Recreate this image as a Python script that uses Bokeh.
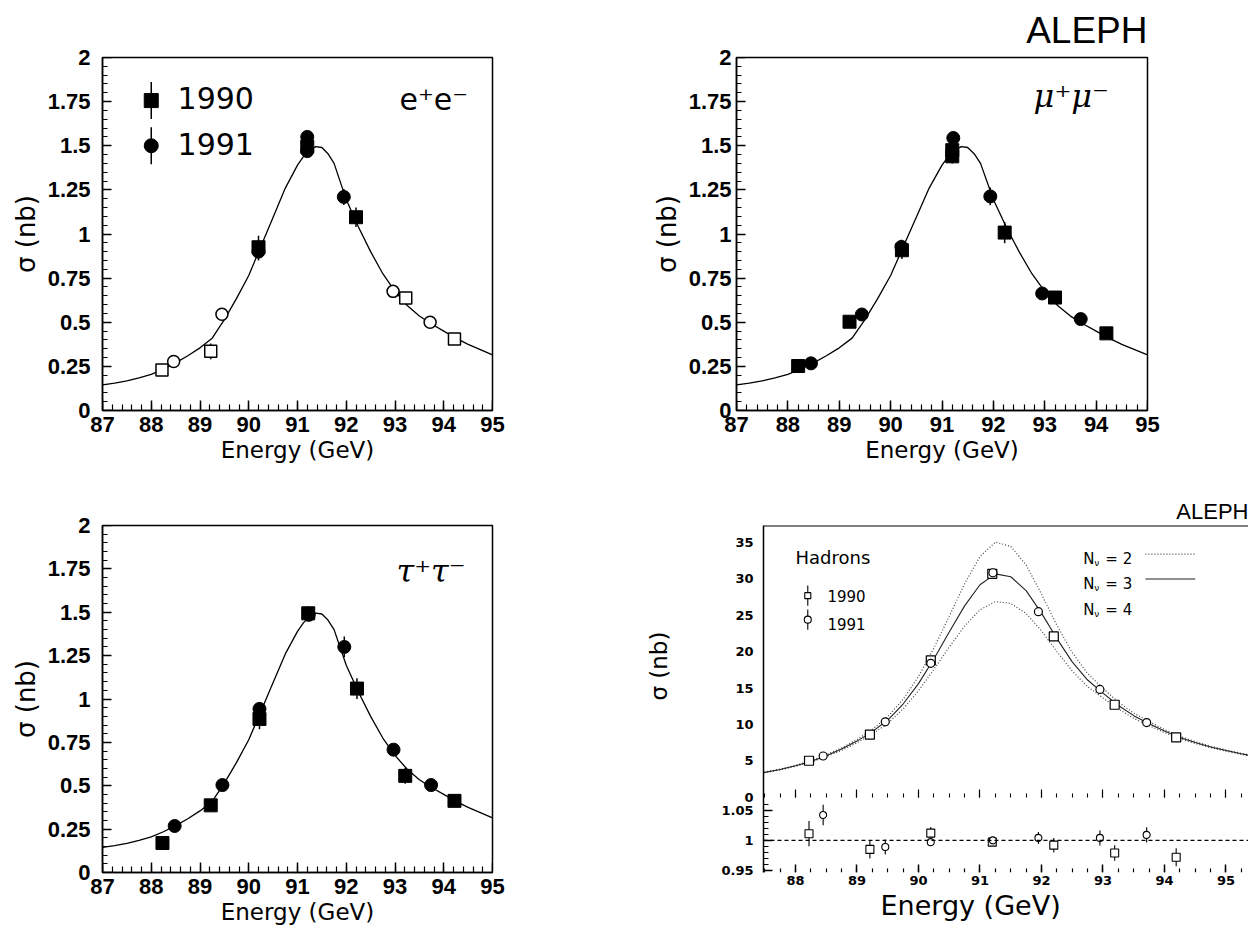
from bokeh.plotting import figure
from bokeh.models import (Range1d, SingleIntervalTicker, FixedTicker, LinearAxis,
                          NumeralTickFormatter, Label, Span, Title, AllLabels)
from bokeh.layouts import row, column
from bokeh.embed import file_html
from bokeh.resources import INLINE

# ---------------- data ----------------
fit_E = [87.0, 87.25, 87.5, 87.75, 88.0, 88.25, 88.5, 88.75, 89.0, 89.25, 89.5,
         89.75, 90.0, 90.25, 90.5, 90.75, 91.0, 91.125, 91.25, 91.375, 91.5,
         91.625, 91.75, 92.0, 92.25, 92.5, 92.75, 93.0, 93.25, 93.5, 93.75,
         94.0, 94.25, 94.5, 94.75, 95.0]
fit_sigma = [0.145, 0.155, 0.168, 0.185, 0.205, 0.235, 0.27, 0.31, 0.355, 0.41,
             0.515, 0.635, 0.765, 0.93, 1.095, 1.26, 1.39, 1.44, 1.475, 1.495,
             1.49, 1.455, 1.40, 1.195, 1.04, 0.90, 0.775, 0.675, 0.595, 0.535,
             0.49, 0.45, 0.41, 0.375, 0.345, 0.315]

ee_sq_E = [90.2, 91.2, 92.2]
ee_sq_sigma = [0.925, 1.495, 1.095]
ee_sq_err = [0.065, 0.04, 0.055]
ee_ci_E = [90.2, 91.2, 91.2, 91.95]
ee_ci_sigma = [0.90, 1.55, 1.47, 1.21]
ee_ci_err = [0.05, 0.03, 0.03, 0.045]
ee_osq_E = [88.22, 89.22, 93.22, 94.22]
ee_osq_sigma = [0.23, 0.335, 0.637, 0.405]
ee_osq_err = [0.03, 0.045, 0.03, 0.03]
ee_oci_E = [88.46, 89.45, 92.96, 93.72]
ee_oci_sigma = [0.278, 0.545, 0.675, 0.50]
ee_oci_err = [0.025, 0.03, 0.035, 0.03]

mm_90_E = [88.2, 89.2, 90.22, 91.2, 91.2, 92.22, 93.2, 94.2]
mm_90_sigma = [0.252, 0.503, 0.908, 1.475, 1.44, 1.008, 0.64, 0.437]
mm_90_err = [0.02, 0.03, 0.05, 0.04, 0.04, 0.06, 0.03, 0.025]
mm_91_E = [88.45, 89.44, 90.21, 91.22, 91.94, 92.95, 93.7]
mm_91_sigma = [0.267, 0.544, 0.927, 1.544, 1.213, 0.663, 0.518]
mm_91_err = [0.02, 0.025, 0.04, 0.03, 0.05, 0.025, 0.02]

tt_90_E = [88.23, 89.22, 90.22, 91.22, 92.22, 93.21, 94.22]
tt_90_sigma = [0.17, 0.387, 0.885, 1.494, 1.06, 0.557, 0.413]
tt_90_err = [0.025, 0.03, 0.06, 0.04, 0.06, 0.045, 0.025]
tt_91_E = [88.48, 89.46, 90.22, 91.23, 91.96, 92.97, 93.74]
tt_91_sigma = [0.268, 0.504, 0.943, 1.485, 1.30, 0.708, 0.504]
tt_91_err = [0.02, 0.025, 0.04, 0.03, 0.06, 0.03, 0.025]

had_E = [87.25, 87.5, 87.75, 88.0, 88.25, 88.5, 88.75, 89.0, 89.25, 89.5, 89.75,
         90.0, 90.25, 90.5, 90.75, 91.0, 91.25, 91.5, 91.75, 92.0, 92.25, 92.5,
         92.75, 93.0, 93.25, 93.5, 93.75, 94.0, 94.25, 94.5, 94.75, 95.0, 95.25,
         95.5]
had_N2 = [3.13, 3.44, 3.85, 4.37, 4.99, 5.82, 6.76, 7.92, 9.32, 11.05, 13.45,
          16.58, 20.5, 24.86, 29.35, 33.08, 35.06, 34.48, 31.92, 27.93, 23.65,
          19.88, 17.0, 14.94, 13.07, 11.55, 10.36, 9.3, 8.36, 7.62, 7.0, 6.48, 6.02,
          5.62]
had_N3 = [3.1, 3.4, 3.8, 4.3, 4.9, 5.7, 6.6, 7.7, 9.0, 10.6, 12.8, 15.6, 19.0,
          22.7, 26.3, 29.2, 30.7, 30.3, 28.4, 25.3, 21.8, 18.6, 16.1, 14.3, 12.6,
          11.2, 10.1, 9.1, 8.2, 7.5, 6.9, 6.4, 5.95, 5.55]
had_N4 = [3.06, 3.35, 3.74, 4.23, 4.8, 5.57, 6.42, 7.46, 8.67, 10.13, 12.12,
          14.62, 17.56, 20.63, 23.51, 25.75, 26.89, 26.63, 25.25, 22.85, 20.01,
          17.34, 15.18, 13.63, 12.11, 10.83, 9.82, 8.88, 8.03, 7.37, 6.79, 6.31, 5.87,
          5.48]
had_90_E = [88.22, 89.21, 90.2, 91.2, 92.2, 93.19, 94.19]
had_90_sigma = [5.0, 8.6, 18.8, 30.7, 22.1, 12.7, 8.2]
had_91_E = [88.45, 89.46, 90.2, 91.21, 91.95, 92.95, 93.71]
had_91_sigma = [5.65, 10.35, 18.4, 30.85, 25.5, 14.8, 10.25]
ratio_90 = [1.011, 0.985, 1.012, 0.997, 0.992, 0.979, 0.972]
ratio_90_err = [0.021, 0.015, 0.01, 0.005, 0.012, 0.013, 0.015]
ratio_91 = [1.042, 0.989, 0.997, 1.0, 1.004, 1.004, 1.009]
ratio_91_err = [0.017, 0.0125, 0.005, 0.004, 0.01, 0.0125, 0.0125]
had_ticks = [0, 5, 10, 15, 20, 25, 30, 35]
ratio_ticks = [0.95, 1.0, 1.05]
ratio_tick_labels = ["0.95", "1", "1.05"]

TICK_FONT = "Liberation Sans"
LAB_FONT = "DejaVu Sans"


def errbars(p, x, y, e, width=1.5, **kw):
    p.segment(x0=x, y0=[a - b for a, b in zip(y, e)], x1=x,
              y1=[a + b for a, b in zip(y, e)], line_color="black",
              line_width=width, **kw)


def no_ticks(ax):
    ax.major_tick_in = 0
    ax.major_tick_out = 0
    ax.minor_tick_in = 0
    ax.minor_tick_out = 0


def tick_axis(p, side, loc, positions, length, width=1.4, direction="out", **kw):
    """Unlabelled axis pinned to an interior position that only draws ticks."""
    ax = LinearAxis(fixed_location=loc,
                    ticker=FixedTicker(ticks=[], minor_ticks=positions), **kw)
    ax.axis_line_color = None
    no_ticks(ax)
    if direction == "in":
        ax.minor_tick_in = length
    else:
        ax.minor_tick_out = length
    ax.minor_tick_line_color = "black"
    ax.minor_tick_line_width = width
    ax.major_label_standoff = 0
    p.add_layout(ax, side)


def edge_ticks(p, side, loc, ticker, tin_major, tin_minor, font, size, standoff,
               formatter=None, **kw):
    """Axis pinned on the frame edge, drawing inward major and minor ticks.
    Its labels coincide with (and are clipped behind) the real axis labels."""
    ax = LinearAxis(fixed_location=loc, ticker=ticker, **kw)
    if formatter is not None:
        ax.formatter = formatter
    ax.axis_line_color = None
    ax.major_tick_in = tin_major
    ax.major_tick_out = 0
    ax.minor_tick_in = tin_minor
    ax.minor_tick_out = 0
    ax.major_tick_line_color = "black"
    ax.minor_tick_line_color = "black"
    ax.major_tick_line_width = 1.5
    ax.minor_tick_line_width = 1.2
    ax.major_label_text_font = font
    ax.major_label_text_font_style = "bold"
    ax.major_label_text_font_size = size
    ax.major_label_text_color = "black"
    ax.major_label_standoff = standoff
    p.add_layout(ax, side)


def lepton_fig(width, height, ml, mr, mt, mb, tick_standoff, ylab_standoff):
    p = figure(width=width, height=height, x_range=Range1d(87, 95),
               y_range=Range1d(0, 2), output_backend="svg", toolbar_location=None,
               min_border_left=ml, min_border_right=mr, min_border_top=mt,
               min_border_bottom=mb, background_fill_color="white",
               border_fill_color="white")
    p.outline_line_color = "black"
    p.outline_line_width = 1.5
    p.outline_line_alpha = 1.0
    p.xgrid.visible = False
    p.ygrid.visible = False
    xa = p.xaxis[0]
    ya = p.yaxis[0]
    xa.ticker = SingleIntervalTicker(interval=1)
    ya.ticker = SingleIntervalTicker(interval=0.25)
    ya.formatter = NumeralTickFormatter(format="0.[00]")
    for ax in (xa, ya):
        no_ticks(ax)
        ax.axis_line_width = 1.5
        ax.axis_line_color = "black"
        ax.major_label_text_font = TICK_FONT
        ax.major_label_text_font_style = "bold"
        ax.major_label_text_font_size = "22px"
        ax.major_label_text_color = "black"
        ax.axis_label_text_font = LAB_FONT
        ax.axis_label_text_font_style = "normal"
        ax.axis_label_text_color = "black"
    xa.major_label_standoff = 6
    xa.axis_label = "Energy (GeV)"
    xa.axis_label_text_font_size = "23px"
    xa.axis_label_standoff = 2
    ya.major_label_standoff = tick_standoff
    ya.axis_label = "σ (nb)"
    ya.axis_label_text_font_size = "26px"
    ya.axis_label_standoff = ylab_standoff
    # inner ticks on the bottom and left frame edges
    edge_ticks(p, "below", 0, SingleIntervalTicker(interval=1, num_minor_ticks=5),
               10, 6, TICK_FONT, "22px", 6)
    edge_ticks(p, "left", 87, SingleIntervalTicker(interval=0.25, num_minor_ticks=5),
               9, 5, TICK_FONT, "22px", tick_standoff,
               formatter=NumeralTickFormatter(format="0.[00]"))
    p.line(fit_E, fit_sigma, line_color="black", line_width=1.3)
    return p


def add_tag(p, x, y, text, font, style, size):
    p.add_layout(Label(x=x, y=y, text=text, text_font=font, text_font_style=style,
                       text_font_size=size, text_align="right",
                       text_baseline="alphabetic", text_color="black"))


# ---- e+e- ----
p1 = lepton_fig(640, 468, 102, 148, 57, 58, 12, 4)
errbars(p1, ee_sq_E, ee_sq_sigma, ee_sq_err)
errbars(p1, ee_ci_E, ee_ci_sigma, ee_ci_err)
errbars(p1, ee_osq_E, ee_osq_sigma, ee_osq_err)
errbars(p1, ee_oci_E, ee_oci_sigma, ee_oci_err)
p1.scatter(ee_osq_E, ee_osq_sigma, marker="square", size=12, fill_color="white",
           line_color="black", line_width=1.5)
p1.scatter(ee_oci_E, ee_oci_sigma, marker="circle", size=12, fill_color="white",
           line_color="black", line_width=1.5)
p1.scatter(ee_sq_E, ee_sq_sigma, marker="square", size=13, fill_color="black",
           line_color="black")
p1.scatter(ee_ci_E, ee_ci_sigma, marker="circle", size=13, fill_color="black",
           line_color="black")
leg_x = [88.0, 88.0]
leg_y = [1.756, 1.50]
p1.segment(x0=leg_x, y0=[v - 0.105 for v in leg_y], x1=leg_x,
           y1=[v + 0.105 for v in leg_y], line_color="black", line_width=1.5)
p1.scatter([leg_x[0]], [leg_y[0]], marker="square", size=14, fill_color="black",
           line_color="black")
p1.scatter([leg_x[1]], [leg_y[1]], marker="circle", size=14, fill_color="black",
           line_color="black")
for yy, t in zip(leg_y, ["1990", "1991"]):
    p1.add_layout(Label(x=88.54, y=yy + 0.012, text=t, text_font=LAB_FONT,
                        text_font_size="30px", text_baseline="middle",
                        text_color="black"))
add_tag(p1, 94.5, 1.76, "e⁺e⁻", LAB_FONT, "normal", "30px")

# ---- mu+mu- ----
p2 = lepton_fig(608, 468, 96, 101, 57, 58, 5, 4)
errbars(p2, mm_90_E, mm_90_sigma, mm_90_err)
errbars(p2, mm_91_E, mm_91_sigma, mm_91_err)
p2.scatter(mm_90_E, mm_90_sigma, marker="square", size=13, fill_color="black",
           line_color="black")
p2.scatter(mm_91_E, mm_91_sigma, marker="circle", size=13, fill_color="black",
           line_color="black")
add_tag(p2, 94.25, 1.78, "μ⁺μ⁻", "DejaVu Serif", "italic", "32px")
p2.above.insert(0, Title(text="ALEPH", align="right", text_font="Liberation Sans",
                         text_font_style="normal", text_font_size="37px",
                         text_color="black", standoff=14))

# ---- tau+tau- ----
p3 = lepton_fig(640, 470, 102, 148, 51, 66, 12, 4)
errbars(p3, tt_90_E, tt_90_sigma, tt_90_err)
errbars(p3, tt_91_E, tt_91_sigma, tt_91_err)
p3.scatter(tt_90_E, tt_90_sigma, marker="square", size=13, fill_color="black",
           line_color="black")
p3.scatter(tt_91_E, tt_91_sigma, marker="circle", size=13, fill_color="black",
           line_color="black")
add_tag(p3, 94.45, 1.735, "τ⁺τ⁻", "DejaVu Serif", "italic", "32px")

# ---- hadrons (one figure, two y ranges) ----
Y0, Y1 = -10.37, 37.35
R0, R1 = 0.9467, 1.5217
p4 = figure(width=608, height=470, x_range=Range1d(87.48, 95.366),
            y_range=Range1d(Y0, Y1), output_backend="svg",
            toolbar_location=None, min_border_left=123, min_border_right=0,
            min_border_top=57, min_border_bottom=55, background_fill_color="white",
            border_fill_color="white")
p4.extra_y_ranges = {"ratio": Range1d(R0, R1)}
p4.outline_line_color = None
p4.xgrid.visible = False
p4.ygrid.visible = False

xa = p4.xaxis[0]
xa.ticker = SingleIntervalTicker(interval=1)
xa.axis_line_color = None
no_ticks(xa)
xa.major_label_text_font = LAB_FONT
xa.major_label_text_font_style = "bold"
xa.major_label_text_font_size = "13px"
xa.major_label_text_color = "black"
xa.major_label_standoff = 3

# one left axis carries the cross-section labels and the ratio-scale labels
ratio_pos = [round(Y0 + (r - R0) * (Y1 - Y0) / (R1 - R0), 6) for r in ratio_ticks]
ya = p4.yaxis[0]
ya.ticker = FixedTicker(ticks=had_ticks + ratio_pos)
ya.major_label_overrides = dict(zip(ratio_pos, ratio_tick_labels))
ya.major_label_policy = AllLabels()
ya.axis_line_color = "black"
ya.axis_line_width = 1.5
no_ticks(ya)
ya.major_label_text_font = LAB_FONT
ya.major_label_text_font_style = "bold"
ya.major_label_text_font_size = "13px"
ya.major_label_text_color = "black"
ya.major_label_standoff = 10
ya.axis_label = "\u00a0" * 9 + "σ (nb)"
ya.axis_label_text_font = LAB_FONT
ya.axis_label_text_font_style = "normal"
ya.axis_label_text_font_size = "23px"
ya.axis_label_text_color = "black"
ya.axis_label_standoff = 46

p4.add_layout(Title(text="ALEPH", align="right", text_font="Liberation Sans",
                    text_font_style="normal", text_font_size="22px",
                    text_color="black", standoff=3), "above")

# ticks: separator row at sigma = 0 (pointing up)
quarter = [87.5 + 0.25 * k for k in range(32)]
integers = [88 + k for k in range(8)]
tick_axis(p4, "above", 0, integers, 8, 1.2)
tick_axis(p4, "above", 0, quarter, 4, 1.1)
# ticks on the bottom edge and on the ratio scale
edge_ticks(p4, "below", Y0, SingleIntervalTicker(interval=1, num_minor_ticks=4),
           8, 4, LAB_FONT, "13px", 3)
edge_ticks(p4, "left", 87.48,
           FixedTicker(ticks=ratio_ticks,
                       minor_ticks=[0.95 + 0.01 * k for k in range(12)]),
           9, 5, LAB_FONT, "13px", 10,
           formatter=NumeralTickFormatter(format="0.[00]"), y_range_name="ratio")

p4.add_layout(Span(location=Y1, dimension="width", line_color="black",
                   line_width=2))

p4.line(had_E, had_N2, line_color="#444444", line_width=1.2, line_dash="1 2")
p4.line(had_E, had_N4, line_color="#444444", line_width=1.2, line_dash="1 2")
p4.line(had_E, had_N3, line_color="#222222", line_width=1.1)
p4.scatter(had_90_E, had_90_sigma, marker="square", size=9, fill_color="white",
           line_color="black", line_width=1.2)
p4.scatter(had_91_E, had_91_sigma, marker="circle", size=8, fill_color="white",
           line_color="black", line_width=1.2)

p4.add_layout(Label(x=88.0, y=32.9, text="Hadrons", text_font=LAB_FONT,
                    text_font_size="18px", text_baseline="middle", text_color="black"))
hl_x = [88.2, 88.2]
hl_y = [27.7, 24.4]
p4.segment(x0=hl_x, y0=[v - 1.4 for v in hl_y], x1=hl_x, y1=[v + 1.4 for v in hl_y],
           line_color="black", line_width=1.1)
p4.scatter([hl_x[0]], [hl_y[0]], marker="square", size=6, fill_color="white",
           line_color="black", line_width=1.1)
p4.scatter([hl_x[1]], [hl_y[1]], marker="circle", size=7, fill_color="white",
           line_color="black", line_width=1.1)
for yy, t in zip([27.6, 23.8], ["1990", "1991"]):
    p4.add_layout(Label(x=88.52, y=yy, text=t, text_font=LAB_FONT,
                        text_font_size="15px", text_baseline="middle",
                        text_color="black"))
for yy, n in zip([32.8, 29.3, 25.7], ["2", "3", "4"]):
    p4.add_layout(Label(x=92.68, y=yy, text="N", text_font=LAB_FONT,
                        text_font_size="15px", text_baseline="middle",
                        text_color="black"))
    p4.add_layout(Label(x=92.68, y=yy, x_offset=11, y_offset=-4, text="ν",
                        text_font=LAB_FONT, text_font_size="9px",
                        text_baseline="middle", text_color="black"))
    p4.add_layout(Label(x=92.68, y=yy, x_offset=22, text="= " + n,
                        text_font=LAB_FONT, text_font_size="15px",
                        text_baseline="middle", text_color="black"))
p4.segment(x0=[93.69], y0=[33.4], x1=[94.5], y1=[33.4], line_color="#444444",
           line_width=1.2, line_dash="1 2")
p4.segment(x0=[93.69], y0=[30.0], x1=[94.5], y1=[30.0], line_color="#222222",
           line_width=1.1)

# ratio panel content
p4.add_layout(Span(location=1.0, dimension="width", y_range_name="ratio",
                   line_color="black", line_width=1.1, line_dash="4 3"))
errbars(p4, had_90_E, ratio_90, ratio_90_err, width=1.1, y_range_name="ratio")
errbars(p4, had_91_E, ratio_91, ratio_91_err, width=1.1, y_range_name="ratio")
p4.scatter(had_90_E, ratio_90, marker="square", size=8, fill_color="white",
           line_color="black", line_width=1.1, y_range_name="ratio")
p4.scatter(had_91_E, ratio_91, marker="circle", size=7, fill_color="white",
           line_color="black", line_width=1.1, y_range_name="ratio")
p4.add_layout(Title(text="Energy (GeV)", align="left", offset=117,
                    text_font=LAB_FONT, text_font_style="normal",
                    text_font_size="27px", text_color="black", standoff=0), "below")

layout = column(row(p1, p2), row(p3, p4))

with open("out.html", "w") as f:
    f.write(file_html(layout, INLINE))
